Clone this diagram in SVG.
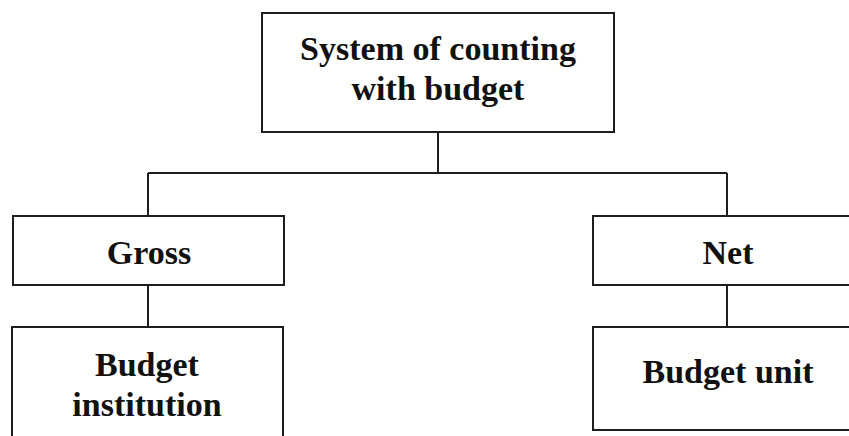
<svg xmlns="http://www.w3.org/2000/svg" width="849" height="436" viewBox="0 0 849 436">
  <style>
    .box { fill: #ffffff; stroke: #1e1e1e; stroke-width: 2; }
    .conn { fill: none; stroke: #1e1e1e; stroke-width: 2; }
    .lbl { font-family: "Liberation Serif", "Times New Roman", serif; font-weight: bold; font-size: 34px; fill: #111111; text-anchor: middle; }
  </style>
  <rect width="849" height="436" fill="#ffffff"/>
  <g id="connectors">
    <path class="conn" d="M438 132 V173"/>
    <path class="conn" d="M148 173 H727"/>
    <path class="conn" d="M148 173 V216"/>
    <path class="conn" d="M727 173 V216"/>
    <path class="conn" d="M148 285 V327"/>
    <path class="conn" d="M727 285 V327"/>
  </g>
  <g id="node-system">
    <rect class="box" x="262" y="13" width="352" height="119"/>
    <text class="lbl" x="438" y="60">System of counting</text>
    <text class="lbl" x="438" y="100">with budget</text>
  </g>
  <g id="node-gross">
    <rect class="box" x="13" y="216" width="271" height="69"/>
    <text class="lbl" x="149" y="264">Gross</text>
  </g>
  <g id="node-net">
    <rect class="box" x="593" y="216" width="270" height="69"/>
    <text class="lbl" x="728" y="264">Net</text>
  </g>
  <g id="node-budget-institution">
    <rect class="box" x="12" y="327" width="271" height="130"/>
    <text class="lbl" x="147" y="376">Budget</text>
    <text class="lbl" x="147" y="416">institution</text>
  </g>
  <g id="node-budget-unit">
    <rect class="box" x="593" y="327" width="270" height="103"/>
    <text class="lbl" x="728" y="383">Budget unit</text>
  </g>
</svg>
